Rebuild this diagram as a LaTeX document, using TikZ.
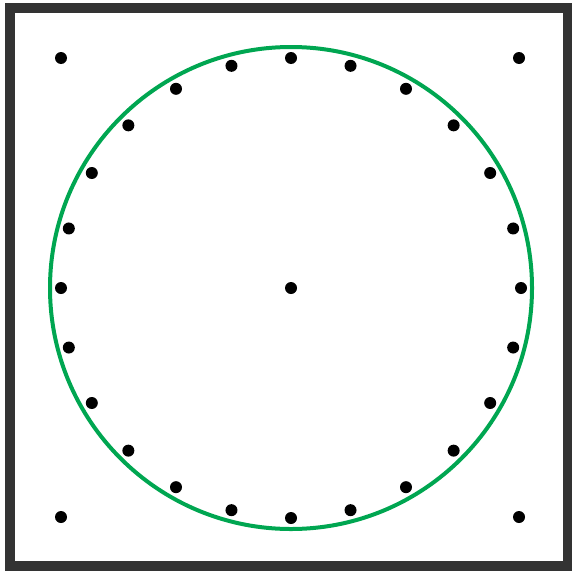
\documentclass[tikz,border=0pt]{standalone}
\usepackage{xcolor}
\usepackage{tikz}
\usetikzlibrary{positioning}

\definecolor{framegray}{HTML}{333333}
\definecolor{ringgreen}{HTML}{00A651}

\begin{document}
\begin{tikzpicture}[
    x=1pt, y=-1pt,
    dot/.style={circle, fill=black, inner sep=0pt, minimum size=12pt},
    border/.style={draw=framegray, line width=10pt},
    ring/.style={draw=ringgreen, line width=4pt}
]
\useasboundingbox (0,0) rectangle (572,570);

% Frame
\draw[border] (10,8) rectangle (568,566);

% Centre and corner points
\node[dot] (centre) at (291,288) {};
\node[dot] (tl) at (61,58) {};
\node[dot] (tr) at (519,58) {};
\node[dot] (bl) at (61,517) {};
\node[dot] (br) at (519,517) {};

% Ring of points
\foreach \i in {0,...,23}
  \node[dot] (p\i) at ({291+230*cos(15*\i)},{288-230*sin(15*\i)}) {};

% Green boundary
\draw[ring] (centre.center) circle[radius=241pt];

\end{tikzpicture}
\end{document}
